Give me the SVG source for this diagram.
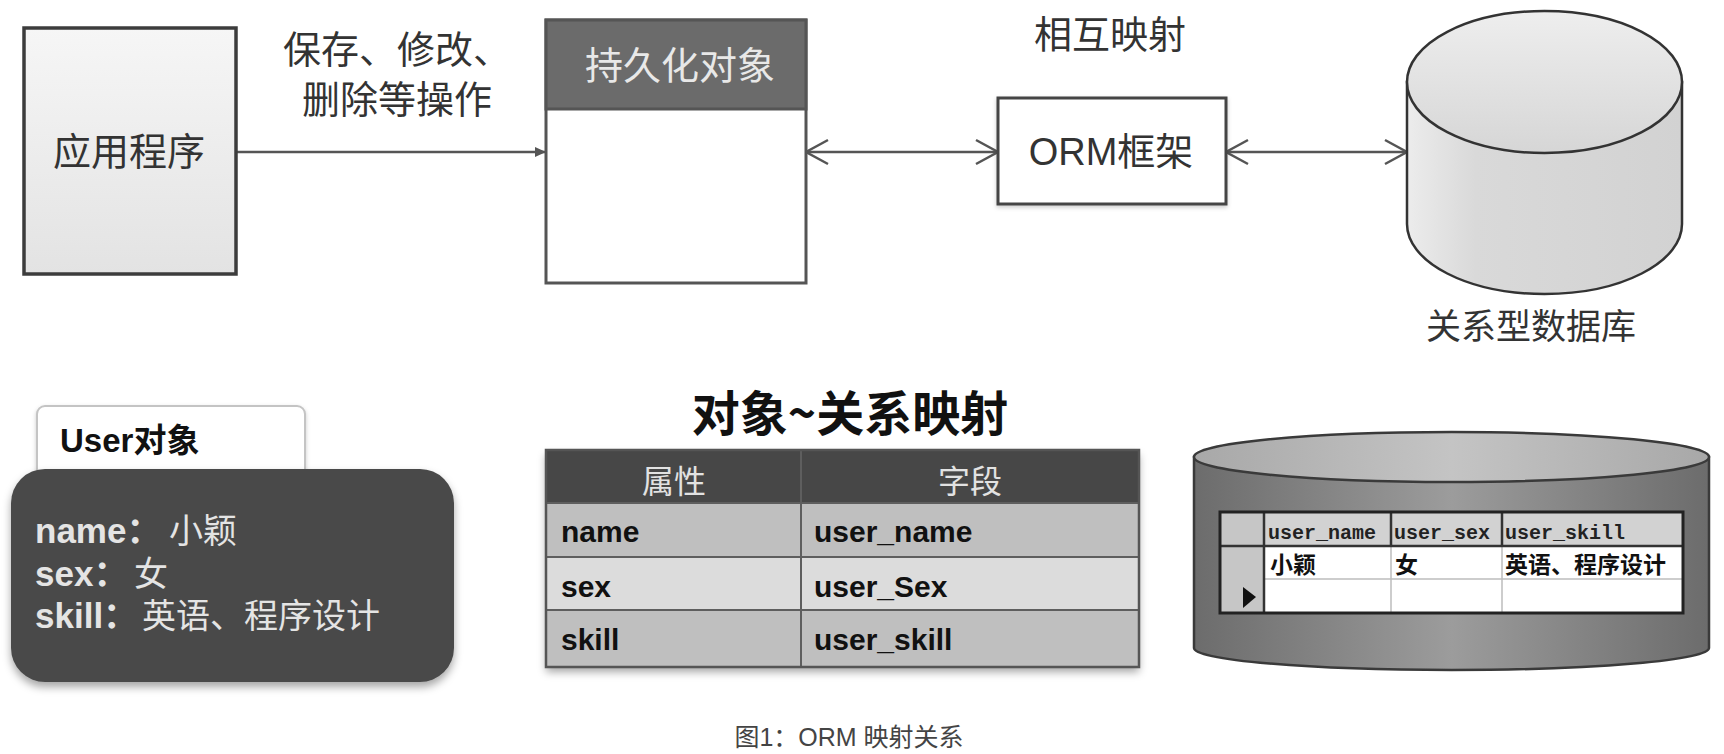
<svg xmlns="http://www.w3.org/2000/svg" width="1724" height="754" viewBox="0 0 1724 754">
<style>
.cjk{font-family:"Noto Sans CJK SC","Liberation Sans",sans-serif;}
.lat{font-family:"Liberation Sans","Noto Sans CJK SC",sans-serif;}
.mono{font-family:"Liberation Mono","Noto Sans CJK SC",monospace;}
.lbl{font-size:38px;fill:#333;}
.conn{stroke:#555;stroke-width:2.5;fill:none;}
.tcell{font-family:"Liberation Sans","Noto Sans CJK SC",sans-serif;font-size:30px;font-weight:bold;fill:#111;}
.grid{stroke:#5e5e5e;stroke-width:2;}
.key{font-family:"Liberation Sans","Noto Sans CJK SC",sans-serif;font-size:35px;font-weight:bold;fill:#e4e4e4;}
.val{font-family:"Noto Sans CJK SC","Liberation Sans",sans-serif;font-size:34px;fill:#e4e4e4;}
</style>
<defs>
<linearGradient id="gApp" x1="0" y1="0" x2="0" y2="1">
<stop offset="0" stop-color="#f6f6f6"/><stop offset="1" stop-color="#e3e3e3"/>
</linearGradient>
<linearGradient id="gCylBody" x1="0" y1="0" x2="1" y2="0">
<stop offset="0" stop-color="#ececec"/><stop offset="0.25" stop-color="#d9d9d9"/><stop offset="1" stop-color="#d2d2d2"/>
</linearGradient>
<linearGradient id="gCylTop" x1="0" y1="0" x2="0" y2="1">
<stop offset="0" stop-color="#eeeeee"/><stop offset="1" stop-color="#d6d6d6"/>
</linearGradient>
<linearGradient id="gDbBody" x1="0" y1="0" x2="1" y2="0">
<stop offset="0" stop-color="#6c6c6c"/><stop offset="0.5" stop-color="#9c9c9c"/><stop offset="1" stop-color="#6c6c6c"/>
</linearGradient>
<linearGradient id="gDbTop" x1="0" y1="0" x2="1" y2="0">
<stop offset="0" stop-color="#a8a8a8"/><stop offset="0.5" stop-color="#c4c4c4"/><stop offset="1" stop-color="#a8a8a8"/>
</linearGradient>
<filter id="shadow" x="-10%" y="-10%" width="120%" height="130%">
<feDropShadow dx="0" dy="5" stdDeviation="4" flood-color="#000" flood-opacity="0.35"/>
</filter>
<filter id="shadowSoft" x="-10%" y="-10%" width="120%" height="130%">
<feDropShadow dx="0" dy="2" stdDeviation="2" flood-color="#000" flood-opacity="0.2"/>
</filter>
<marker id="arrSmall" viewBox="0 0 12 12" refX="11" refY="6" markerWidth="12" markerHeight="12" markerUnits="userSpaceOnUse" orient="auto">
<path d="M0,1 L11,6 L0,11 Z" fill="#555"/>
</marker>
<marker id="arrOpen" viewBox="0 0 28 28" refX="25" refY="14" markerWidth="28" markerHeight="28" markerUnits="userSpaceOnUse" orient="auto-start-reverse">
<path d="M3,2 L25,14 L3,26" fill="none" stroke="#555" stroke-width="2.5"/>
</marker>
</defs>
<rect width="1724" height="754" fill="#fff"/>

<g id="connectors">
<line class="conn" x1="236" y1="152" x2="546" y2="152" marker-end="url(#arrSmall)"/>
<line class="conn" x1="806" y1="152" x2="998" y2="152" marker-start="url(#arrOpen)" marker-end="url(#arrOpen)"/>
<line class="conn" x1="1226" y1="152" x2="1407" y2="152" marker-start="url(#arrOpen)" marker-end="url(#arrOpen)"/>
</g>

<g id="label-ops">
<text class="cjk lbl" x="283" y="63">保存、修改、</text>
<text class="cjk lbl" x="302" y="113">删除等操作</text>
</g>
<g id="label-mapping">
<text class="cjk lbl" x="1110" y="48" text-anchor="middle">相互映射</text>
</g>

<g id="app">
<rect x="24" y="28" width="212" height="246" fill="url(#gApp)" stroke="#3c3c3c" stroke-width="3.5"/>
<text class="cjk lbl" x="129" y="165" text-anchor="middle">应用程序</text>
</g>

<g id="persistent">
<rect x="546" y="20" width="260" height="263" fill="#fff" stroke="#555" stroke-width="3"/>
<rect x="546" y="20" width="260" height="89" fill="#6b6b6b" stroke="#555" stroke-width="3"/>
<text class="cjk" x="680" y="79" text-anchor="middle" font-size="38" fill="#e8e8e8">持久化对象</text>
</g>

<g id="orm">
<rect x="998" y="98" width="228" height="106" fill="#fff" stroke="#444" stroke-width="3" filter="url(#shadowSoft)"/>
<text class="lat lbl" x="1111" y="165" text-anchor="middle">ORM框架</text>
</g>

<g id="rdb">
<path d="M1407,82 V224 A137.5,70 0 0 0 1682,224 V82 Z" fill="url(#gCylBody)" stroke="#333" stroke-width="2.5"/>
<ellipse cx="1544.5" cy="82" rx="137.5" ry="71" fill="url(#gCylTop)" stroke="#333" stroke-width="2.5"/>
<text class="cjk" x="1531" y="339" text-anchor="middle" font-size="35" fill="#333">关系型数据库</text>
</g>

<g id="user-object">
<rect x="37" y="406" width="268" height="72" rx="8" fill="#fff" stroke="#c4c4c4" stroke-width="2" filter="url(#shadowSoft)"/>
<text class="lat" x="60" y="452" font-size="33" font-weight="bold" fill="#111">User对象</text>
<rect x="11" y="469" width="443" height="213" rx="34" fill="#4a4a4a" filter="url(#shadow)"/>
<text class="key" x="35" y="543">name：</text>
<text class="val" x="169" y="543">小颖</text>
<text class="key" x="35" y="586">sex：</text>
<text class="val" x="134" y="586">女</text>
<text class="key" x="35" y="628">skill：</text>
<text class="val" x="142" y="628">英语、程序设计</text>
</g>

<g id="title">
<text class="cjk" x="850" y="431" text-anchor="middle" font-size="48" font-weight="bold" fill="#111">对象~关系映射</text>
</g>

<g id="mapping-table">
<rect x="546" y="450" width="593" height="217" fill="#c0c0c0" filter="url(#shadow)"/>
<rect x="546" y="450" width="593" height="53" fill="#474747"/>
<rect x="546" y="503" width="593" height="54" fill="#bfbfbf"/>
<rect x="546" y="557" width="593" height="53" fill="#dcdcdc"/>
<rect x="546" y="610" width="593" height="57" fill="#bfbfbf"/>
<line class="grid" x1="546" y1="503" x2="1139" y2="503"/>
<line class="grid" x1="546" y1="557" x2="1139" y2="557"/>
<line class="grid" x1="546" y1="610" x2="1139" y2="610"/>
<line class="grid" x1="801" y1="450" x2="801" y2="667"/>
<rect x="546" y="450" width="593" height="217" fill="none" stroke="#555" stroke-width="2.5"/>
<text class="cjk" x="674" y="493" text-anchor="middle" font-size="32" fill="#e2e2e2">属性</text>
<text class="cjk" x="970" y="493" text-anchor="middle" font-size="32" fill="#e2e2e2">字段</text>
<text class="tcell" x="561" y="542">name</text>
<text class="tcell" x="814" y="542">user_name</text>
<text class="tcell" x="561" y="597">sex</text>
<text class="tcell" x="814" y="597">user_Sex</text>
<text class="tcell" x="561" y="650">skill</text>
<text class="tcell" x="814" y="650">user_skill</text>
</g>

<g id="db-table">
<path d="M1194,457 V648 A257.5,22 0 0 0 1709,648 V457 Z" fill="url(#gDbBody)" stroke="#3a3a3a" stroke-width="2.5"/>
<ellipse cx="1451.5" cy="457" rx="257.5" ry="25" fill="url(#gDbTop)" stroke="#3a3a3a" stroke-width="2.5"/>
<rect x="1220" y="512" width="463" height="101" fill="#fff"/>
<rect x="1220" y="512" width="463" height="34" fill="#d2d2d2"/>
<rect x="1220" y="512" width="44" height="101" fill="#c6c6c6"/>
<g stroke="#bdbdbd" stroke-width="1.5">
<line x1="1264" y1="579" x2="1683" y2="579"/>
<line x1="1391" y1="546" x2="1391" y2="613"/>
<line x1="1502" y1="546" x2="1502" y2="613"/>
</g>
<g stroke="#333" stroke-width="2.5">
<line x1="1220" y1="546" x2="1683" y2="546"/>
<line x1="1264" y1="512" x2="1264" y2="613"/>
<line x1="1391" y1="512" x2="1391" y2="546"/>
<line x1="1502" y1="512" x2="1502" y2="546"/>
</g>
<rect x="1220" y="512" width="463" height="101" fill="none" stroke="#222" stroke-width="3"/>
<g class="mono" font-size="20" font-weight="bold" fill="#222">
<text x="1268" y="539">user_name</text>
<text x="1394" y="539">user_sex</text>
<text x="1505" y="539">user_skill</text>
</g>
<g class="cjk" font-size="23" font-weight="bold" fill="#111">
<text x="1270" y="573">小颖</text>
<text x="1395" y="573">女</text>
<text x="1505" y="573">英语、程序设计</text>
</g>
<path d="M1243,587 L1256,597 L1243,608 Z" fill="#111"/>
</g>

<g id="caption">
<text class="lat" x="849" y="746" text-anchor="middle" font-size="25" fill="#444">图1：ORM 映射关系</text>
</g>
</svg>
